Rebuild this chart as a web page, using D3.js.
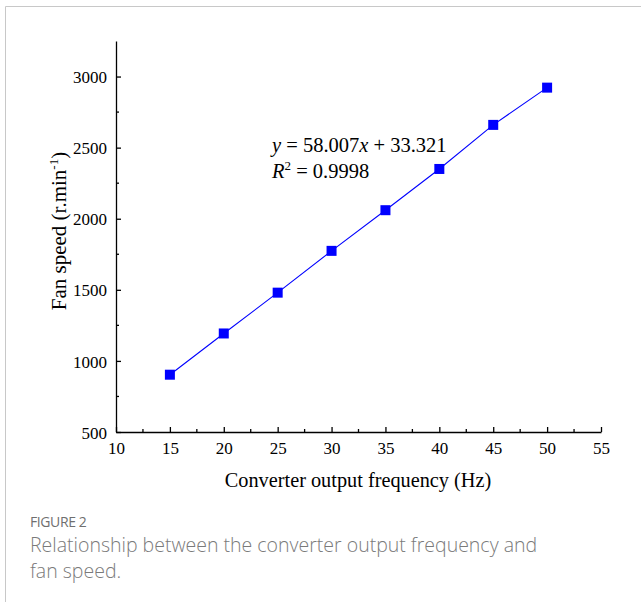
<!DOCTYPE html>
<html>
<head>
<meta charset="utf-8">
<script src="https://cdn.jsdelivr.net/npm/d3@7"></script>
<style>
  body { margin: 0; background: #fff; }
  svg { display: block; }
</style>
</head>
<body>
<div id="chart"></div>
<script>
// data
const frequency = [15, 20, 25, 30, 35, 40, 45, 50];
const fanSpeed = [903, 1193, 1480, 1774, 2060, 2350, 2660, 2922];
const xTicks = [10, 15, 20, 25, 30, 35, 40, 45, 50, 55];
const yTicks = [500, 1000, 1500, 2000, 2500, 3000];

let width = 641, height = 602;
const serif = "'Liberation Serif', 'Times New Roman', serif";

var svg = d3.select("#chart")
    .append("svg")
    .attr("width", width)
    .attr("height", height);

// light frame round the figure
svg.append("path")
    .attr("d", "M5.5," + height + "V6.5H" + width)
    .attr("fill", "none")
    .attr("stroke", "#c8c8c8")
    .attr("stroke-width", 1);

var x = d3.scaleLinear().domain([10, 55]).range([116, 601]);
var y = d3.scaleLinear().domain([500, 3250]).range([432, 41]);

// minor ticks
var g = svg.append("g").attr("stroke", "#000").attr("stroke-width", 1.3);
d3.range(12.5, 55, 5).forEach(function(v) {
    g.append("line").attr("x1", x(v)).attr("x2", x(v)).attr("y1", 432).attr("y2", 429);
});
d3.range(750, 3250, 500).forEach(function(v) {
    g.append("line").attr("y1", y(v)).attr("y2", y(v)).attr("x1", 116).attr("x2", 119);
});

// axes, ticks inward
var xAxis = svg.append("g")
    .attr("transform", "translate(0,432)")
    .call(d3.axisBottom(x).tickValues(xTicks).tickSizeInner(-5).tickSizeOuter(0).tickPadding(10));
var yAxis = svg.append("g")
    .attr("transform", "translate(116,0)")
    .call(d3.axisLeft(y).tickValues(yTicks).tickFormat(d3.format("d")).tickSizeInner(-5).tickSizeOuter(0).tickPadding(9));

[xAxis, yAxis].forEach(function(a) {
    a.select(".domain").attr("stroke-width", 1.3);
    a.selectAll(".tick line").attr("stroke-width", 1.3);
    a.selectAll("text")
        .style("font-family", serif)
        .style("font-size", "17px")
        .attr("fill", "#000");
});
yAxis.selectAll("text").attr("dy", "0.36em");

// line + markers
svg.append("path")
    .datum(d3.zip(frequency, fanSpeed))
    .attr("fill", "none")
    .attr("stroke", "#0000ff")
    .attr("stroke-width", 1.1)
    .attr("d", d3.line().x(d => x(d[0])).y(d => y(d[1])));

svg.append("g")
    .selectAll("rect")
    .data(d3.zip(frequency, fanSpeed))
    .enter().append("rect")
    .attr("x", d => x(d[0]) - 5)
    .attr("y", d => y(d[1]) - 5)
    .attr("width", 10)
    .attr("height", 10)
    .attr("fill", "#0000ff");

// fit equation
var eq = svg.append("text")
    .attr("x", 272).attr("y", 152)
    .style("font-family", serif).style("font-size", "20.5px");
eq.append("tspan").style("font-style", "italic").text("y");
eq.append("tspan").text(" = 58.007");
eq.append("tspan").style("font-style", "italic").text("x");
eq.append("tspan").text(" + 33.321");

var r2 = svg.append("text")
    .attr("x", 272).attr("y", 178)
    .style("font-family", serif).style("font-size", "20.5px");
r2.append("tspan").style("font-style", "italic").text("R");
r2.append("tspan").attr("dy", -8).style("font-size", "13px").text("2");
r2.append("tspan").attr("dy", 8).text(" = 0.9998");

// axis titles
svg.append("text")
    .attr("x", 358).attr("y", 487)
    .attr("text-anchor", "middle")
    .style("font-family", serif).style("font-size", "20.3px")
    .text("Converter output frequency (Hz)");

var yt = svg.append("text")
    .attr("transform", "translate(66,231) rotate(-90)")
    .attr("text-anchor", "middle")
    .style("font-family", serif).style("font-size", "21px");
yt.append("tspan").text("Fan speed (r.min");
yt.append("tspan").attr("dy", -8).style("font-size", "13px").text("-1");
yt.append("tspan").attr("dy", 8).text(")");

// caption
const sans = "'Open Sans', 'Noto Sans', sans-serif";
svg.append("text")
    .attr("x", 30).attr("y", 527)
    .attr("fill", "#6f6f6f")
    .style("font-family", sans).style("font-size", "14px")
    .style("letter-spacing", "-0.4px")
    .text("FIGURE 2");
["Relationship between the converter output frequency and", "fan speed."].forEach(function(t, i) {
    svg.append("text")
        .attr("x", 30).attr("y", 552 + i * 26)
        .attr("fill", "#7a7a7a")
        .style("font-family", sans).style("font-size", "19.5px")
        .style("font-weight", 300)
        .text(t);
});
</script>
</body>
</html>
